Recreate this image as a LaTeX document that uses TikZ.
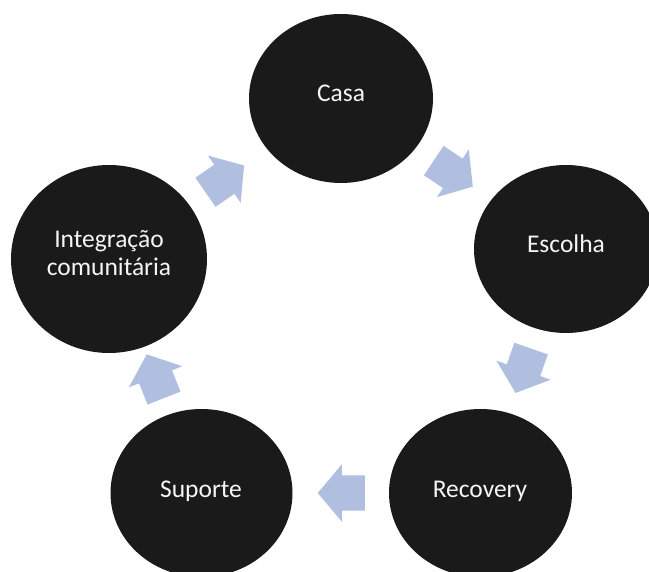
\documentclass[tikz,border=0pt]{standalone}
\usepackage{fontspec}
\setmainfont{Carlito}
\usetikzlibrary{shapes.geometric,shapes.arrows,calc}
\definecolor{bubblefill}{RGB}{26,26,26}
\definecolor{arrowblue}{RGB}{176,190,224}
\definecolor{textwhite}{RGB}{245,245,245}
\tikzset{
  bubble/.style={ellipse, fill=bubblefill, draw=none, inner sep=0pt},
  lbl/.style={text=textwhite, font=\fontsize{25.5}{28}\selectfont, inner sep=0pt, anchor=base},
  blockarrow/.style={single arrow, fill=arrowblue, draw=none, minimum height=47pt,
    inner xsep=0pt, inner ysep=17.5pt, single arrow head extend=11pt,
    single arrow tip angle=100, anchor=tip}
}
\begin{document}
\begin{tikzpicture}[x=1pt,y=-1pt]
\useasboundingbox (0,0) rectangle (649,572);
\begin{scope}
\clip (0,0) rectangle (649,572);
\node[bubble, minimum width=184pt, minimum height=169pt] (casa) at (341,98.5) {};
\node[bubble, minimum width=184pt, minimum height=168pt] (esc) at (566,249) {};
\node[bubble, minimum width=183pt, minimum height=168pt] (rec) at (480.5,493) {};
\node[bubble, minimum width=182pt, minimum height=168pt] (sup) at (201.5,493) {};
\node[bubble, minimum width=196pt, minimum height=188pt] (int) at (109,259) {};
\end{scope}
\node[lbl] (tcasa) at (341,101.5) {Casa};
\node[lbl] (tesc) at (566,253) {Escolha};
\node[lbl] (trec) at (480,498) {Recovery};
\node[lbl] (tsup) at (201,498) {Suporte};
\node[lbl, align=center] (tint) at (109,276) {Integração\\comunitária};
% arrows
\coordinate (m1) at ($(casa)!0.5!(esc)$);
\coordinate (m2) at ($(esc)!0.5!(rec)$);
\coordinate (m3) at ($(rec)!0.5!(sup)$);
\coordinate (m4) at ($(sup)!0.5!(int)$);
\coordinate (m5) at ($(int)!0.5!(casa)$);
\path let \p1=($(esc.center)-(casa.center)$), \n1={atan2(\y1,\x1)} in
  node[blockarrow, rotate=\n1] (a1) at ($(m1)!23.5pt!(esc)$) {};
\path let \p1=($(rec.center)-(esc.center)$), \n1={atan2(\y1,\x1)} in
  node[blockarrow, rotate=\n1] (a2) at ($(m2)!23.5pt!(rec)$) {};
\path let \p1=($(sup.center)-(rec.center)$), \n1={atan2(\y1,\x1)} in
  node[blockarrow, rotate=\n1] (a3) at ($(m3)!23.5pt!(sup)$) {};
\path let \p1=($(int.center)-(sup.center)$), \n1={atan2(\y1,\x1)} in
  node[blockarrow, rotate=\n1] (a4) at ($(m4)!23.5pt!(int)$) {};
\path let \p1=($(casa.center)-(int.center)$), \n1={atan2(\y1,\x1)} in
  node[blockarrow, rotate=\n1] (a5) at ($(m5)!23.5pt!(casa)$) {};
\end{tikzpicture}
\end{document}
